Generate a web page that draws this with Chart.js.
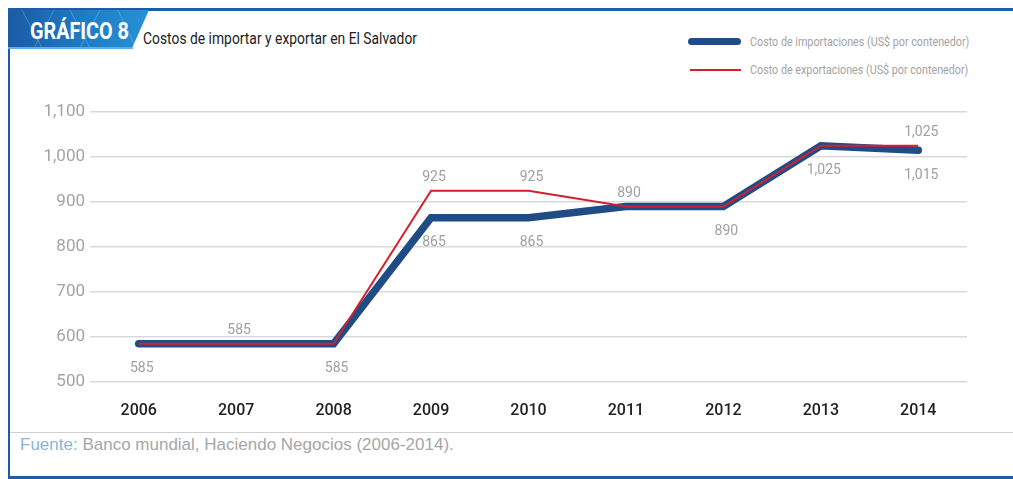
<!DOCTYPE html>
<html>
<head>
<meta charset="utf-8">
<script src="https://cdn.jsdelivr.net/npm/chart.js@4.4.1/dist/chart.umd.min.js"></script>
<style>
  html, body { margin: 0; padding: 0; background: #fff; }
  body { width: 1013px; height: 479px; position: relative; overflow: hidden; font-family: Roboto, sans-serif; }
  .frameTop { position: absolute; left: 8px; top: 8px; width: 1005px; height: 3px; background: #1d5ca8; }
  .frameLeft { position: absolute; left: 8px; top: 10px; width: 2px; height: 468px; background: #1d5ca8; }
  .frameBottom { position: absolute; left: 8px; top: 476px; width: 1005px; height: 3px; background: #1d5ca8; }
  .tab { position: absolute; left: 8px; top: 10px; width: 141px; height: 38px;
         background: linear-gradient(90deg, #1b5aa5 0%, #1f7fc6 60%, #2592d6 100%);
         clip-path: polygon(0 0, 100% 0, 88% 100%, 0 100%); }
  .tab svg { position: absolute; left: 0; top: 0; }
  .tabText { position: absolute; left: 22px; top: 8px; color: #fff; font-weight: bold; font-size: 23px;
             transform: scaleX(0.86); transform-origin: left top; white-space: nowrap; }
  .tabLine { position: absolute; left: 8px; top: 47px; width: 125px; height: 2px; background: #5fb0e6; }
  .title { position: absolute; left: 143px; top: 29px; color: #222; font-size: 16.5px; white-space: nowrap;
           transform: scaleX(0.84); transform-origin: left top; }
  .legend { position: absolute; left: 688px; top: 33px; font-size: 12.5px; color: #a3a3a3; }
  .legend div { position: relative; height: 28px; line-height: 18px; }
  .legend span { position: absolute; left: 0; }
  .legend i { position: absolute; left: 62px; font-style: normal; white-space: nowrap;
              transform: scaleX(0.86); transform-origin: left top; }
  .source { position: absolute; left: 20px; top: 435px; font-family: "Liberation Sans", Arial, sans-serif; font-size: 17px; color: #a6a6a6; }
  .source b { font-weight: normal; color: #8fb3d3; }
  .rule { position: absolute; left: 10px; top: 432px; width: 1003px; height: 1px; background: #d0d0d0; }
  canvas { position: absolute; left: 0; top: 0; }
</style>
</head>
<body>
<div class="frameTop"></div>
<div class="frameLeft"></div>
<div class="frameBottom"></div>
<div class="tab">
  <svg width="141" height="38">
    <g stroke="rgba(255,255,255,0.22)" stroke-width="1" fill="none">
      <path d="M14 0 L34 38 M46 0 L26 38 M62 0 L82 38 M92 0 L72 38 M110 0 L128 38"/>
    </g>
  </svg>
  <div class="tabText">GRÁFICO 8</div>
</div>
<div class="tabLine"></div>
<div class="title">Costos de importar y exportar en El Salvador</div>
<div class="legend">
  <div><span style="top:5px;width:53px;height:7px;border-radius:4px;background:#204c86;"></span><i>Costo de importaciones (US$ por contenedor)</i></div>
  <div><span style="top:8px;left:2px;width:51px;height:2px;background:#d41f2e;"></span><i>Costo de exportaciones (US$ por contenedor)</i></div>
</div>
<div class="rule"></div>
<div class="source"><b>Fuente:</b> Banco mundial, Haciendo Negocios (2006-2014).</div>
<canvas id="myChart" width="1013" height="479"></canvas>
<script>
let years = ['2006', '2007', '2008', '2009', '2010', '2011', '2012', '2013', '2014'];
let importCost = [585, 585, 585, 865, 865, 890, 890, 1025, 1015];
let exportCost = [585, 585, 585, 925, 925, 890, 890, 1025, 1025];
// which points carry a value label in the original
let importLabelled = [0, 2, 3, 4, 6, 7, 8];
let exportLabelled = [1, 3, 4, 5, 8];
let yTicks = [500, 600, 700, 800, 900, 1000, 1100];

const fam = 'Roboto, sans-serif';

// grey value labels, red ones above the line, blue ones below
const valueLabels = {
    id: 'valueLabels',
    afterDatasetsDraw(chart) {
        let c = chart.ctx;
        c.save();
        c.font = '14px ' + fam;
        c.fillStyle = '#a0a0a0';
        c.textAlign = 'center';
        c.textBaseline = 'middle';
        let blue = chart.getDatasetMeta(0).data;
        let red = chart.getDatasetMeta(1).data;
        importLabelled.forEach(i => {
            c.fillText(importCost[i].toLocaleString('en-US'), blue[i].x + 3, blue[i].y + 25);
        });
        exportLabelled.forEach(i => {
            c.fillText(exportCost[i].toLocaleString('en-US'), red[i].x + 3, red[i].y - 13);
        });
        c.restore();
    }
};

const ctx = document.getElementById('myChart');

var chart = new Chart(ctx, {
    type: 'line',
    data: {
        labels: years,
        datasets: [{
            label: 'Costo de importaciones (US$ por contenedor)',
            data: importCost,
            borderColor: '#204c86',
            borderWidth: 7.5,
            borderCapStyle: 'round',
            pointRadius: 0,
            tension: 0,
            order: 2
        }, {
            label: 'Costo de exportaciones (US$ por contenedor)',
            data: exportCost,
            borderColor: '#d41f2e',
            borderWidth: 2,
            pointRadius: 0,
            tension: 0,
            order: 1
        }]
    },
    options: {
        responsive: false,
        animation: false,
        layout: { padding: { left: 0, right: 46, top: 112, bottom: 0 } },
        plugins: { legend: { display: false }, tooltip: { enabled: false } },
        scales: {
            x: {
                offset: true,
                grid: { display: false },
                border: { display: false },
                ticks: { color: '#222', padding: 11, font: { family: fam, size: 16, weight: '500' } },
                afterFit: (s) => { s.height = 97; }
            },
            y: {
                min: 500,
                max: 1100,
                afterBuildTicks: (s) => { s.ticks = yTicks.map(v => ({ value: v })); },
                grid: { color: '#d9d9d9', lineWidth: 1.5, drawTicks: false },
                border: { display: false },
                ticks: {
                    color: '#a3a3a3',
                    padding: 5,
                    font: { family: fam, size: 17 },
                    callback: (v) => v.toLocaleString('en-US')
                },
                afterFit: (s) => { s.width = 90; }
            }
        }
    },
    plugins: [valueLabels]
});
</script>
</body>
</html>
